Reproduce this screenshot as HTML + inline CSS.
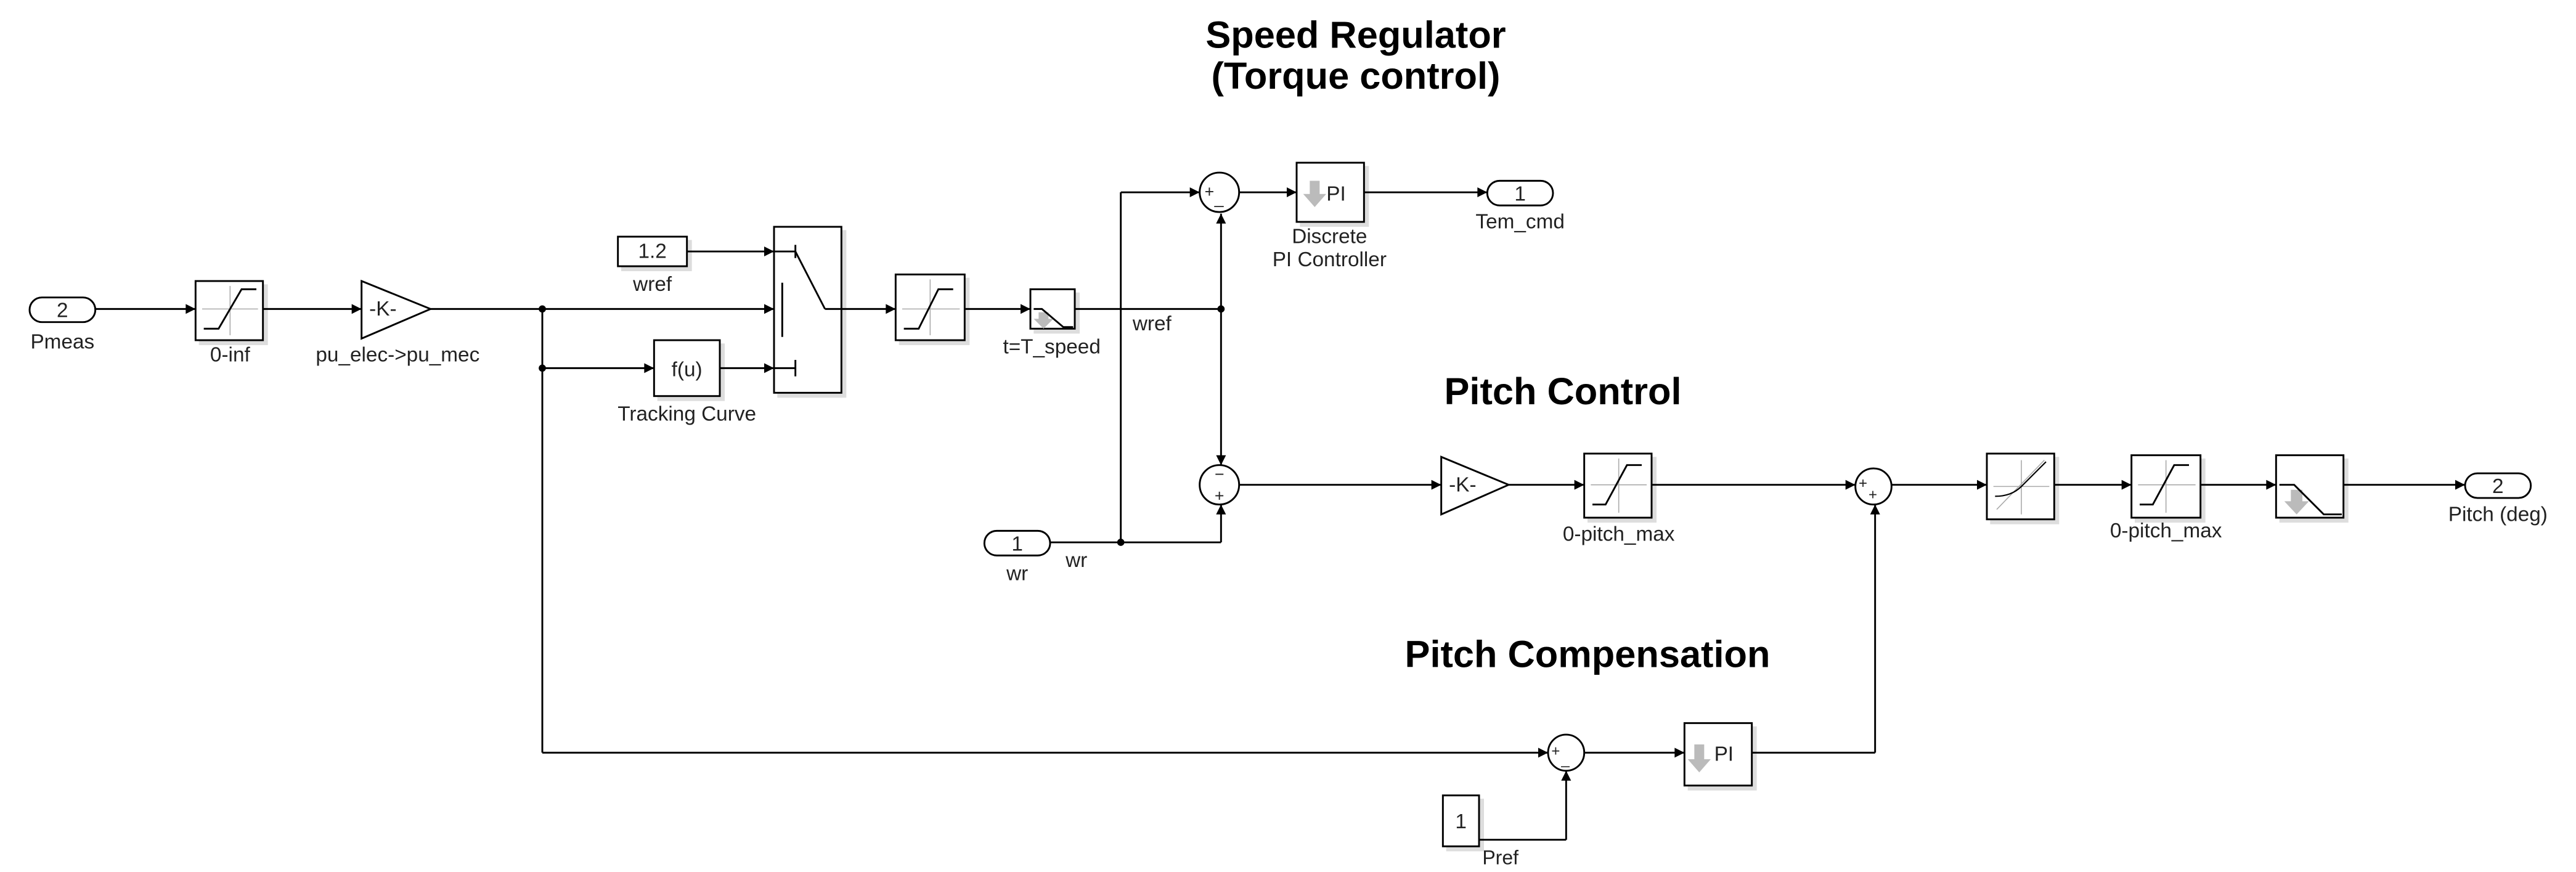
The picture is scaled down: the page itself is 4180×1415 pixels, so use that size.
<!DOCTYPE html>
<html><head><meta charset="utf-8">
<style>
html,body{margin:0;padding:0;background:#fff;}
svg{display:block;}
text{font-family:"Liberation Sans",Arial,sans-serif;fill:#222;}
.t{font-size:12.5px;text-anchor:middle;}
.h{font-size:23px;font-weight:bold;text-anchor:middle;fill:#000;}
.b{fill:#fff;stroke:#000;stroke-width:1.1;}
.w{fill:none;stroke:#000;stroke-width:1.1;}
.g{fill:none;stroke:#aaa;stroke-width:0.6;}
.s{fill:#ddd;stroke:none;}
</style></head><body>
<svg width="4180" height="1415" viewBox="0 0 1567.5 530.6" xmlns="http://www.w3.org/2000/svg" xml:space="preserve">
<defs>
<marker id="a" viewBox="0 0 10 10" refX="10" refY="5" markerWidth="7" markerHeight="6" markerUnits="userSpaceOnUse" orient="auto">
<path d="M0,0 L10,5 L0,10 z" fill="#000"/></marker>
</defs>
<rect width="1567.5" height="530.6" fill="#fff"/>

<!-- titles -->
<text class="h" x="825" y="29">Speed Regulator</text>
<text class="h" x="825" y="54">(Torque control)</text>
<text class="h" x="951" y="246">Pitch  Control</text>
<text class="h" x="966" y="406">Pitch  Compensation</text>

<!-- shadows -->
<g class="s">
<rect x="121" y="173" width="42" height="37"/><rect x="378" y="146" width="43" height="19"/>
<rect x="473" y="140" width="42" height="102"/><rect x="400" y="209" width="41" height="35"/>
<rect x="547" y="169" width="43" height="41"/><rect x="629" y="178" width="28" height="25"/>
<rect x="791" y="101" width="42" height="37"/><rect x="966" y="278" width="42" height="40"/>
<rect x="1211" y="278" width="42" height="41"/><rect x="1299" y="279" width="43" height="39"/>
<rect x="1387" y="279" width="42" height="39"/><rect x="1027" y="442" width="42" height="39"/>
<rect x="880" y="486" width="23" height="32"/>
</g>

<!-- Pmeas inport -->
<rect class="b" x="18" y="181" width="40" height="15" rx="7.5"/>
<text class="t" x="38" y="193">2</text>
<text class="t" x="38" y="212">Pmeas</text>
<line class="w" x1="58" y1="188" x2="119" y2="188" marker-end="url(#a)"/>

<!-- sat 0-inf -->
<rect class="b" x="119" y="171" width="41" height="36"/>
<line class="g" x1="123" y1="188" x2="157" y2="188"/><line class="g" x1="140" y1="174" x2="140" y2="204"/>
<polyline class="w" points="124,200 133,200 147,176 156,176"/>
<text class="t" x="140" y="220">0-inf</text>
<line class="w" x1="160" y1="188" x2="220" y2="188" marker-end="url(#a)"/>

<!-- gain -->
<polygon class="b" points="220,171 262,188 220,206"/>
<text class="t" x="233" y="192">-K-</text>
<text class="t" x="242" y="220">pu_elec-&gt;pu_mec</text>
<line class="w" x1="262" y1="188" x2="471" y2="188" marker-end="url(#a)"/>
<circle cx="330" cy="188" r="2.2"/>
<circle cx="330" cy="224" r="2.2"/>
<line class="w" x1="330" y1="188" x2="330" y2="458"/>
<line class="w" x1="330" y1="224" x2="398" y2="224" marker-end="url(#a)"/>

<!-- f(u) -->
<rect class="b" x="398" y="207" width="40" height="34"/>
<text class="t" x="418" y="229">f(u)</text>
<text class="t" x="418" y="256">Tracking Curve</text>
<line class="w" x1="438" y1="224" x2="471" y2="224" marker-end="url(#a)"/>

<!-- const 1.2 -->
<rect class="b" x="376" y="144" width="42" height="18"/>
<text class="t" x="397" y="157">1.2</text>
<text class="t" x="397" y="177">wref</text>
<line class="w" x1="418" y1="153" x2="471" y2="153" marker-end="url(#a)"/>

<!-- switch -->
<rect class="b" x="471" y="138" width="41" height="101"/>
<polyline class="w" points="471,153 484,153"/>
<line class="w" x1="484" y1="149" x2="484" y2="157"/>
<line class="w" x1="484" y1="153" x2="502" y2="188"/>
<line class="w" x1="502" y1="188" x2="512" y2="188"/>
<line class="w" x1="476" y1="172" x2="476" y2="205"/>
<polyline class="w" points="471,224 484,224"/>
<line class="w" x1="484" y1="219" x2="484" y2="229"/>
<line class="w" x1="512" y1="188" x2="545" y2="188" marker-end="url(#a)"/>

<!-- sat 2 -->
<rect class="b" x="545" y="167" width="42" height="40"/>
<line class="g" x1="549" y1="188" x2="584" y2="188"/><line class="g" x1="566" y1="170" x2="566" y2="204"/>
<polyline class="w" points="550,200 559,200 571,176 580,176"/>
<line class="w" x1="587" y1="188" x2="627" y2="188" marker-end="url(#a)"/>

<!-- rate limiter -->
<rect class="b" x="627" y="176" width="27" height="24"/>
<path d="M632,190 h6 v4 h3 l-6,6 l-6,-6 h3 z" fill="#bbb"/>
<polyline class="w" points="629,188 634,188 647,199 653,199"/>
<text class="t" x="640" y="215">t=T_speed</text>
<line class="w" x1="654" y1="188" x2="743" y2="188"/>
<text class="t" x="701" y="201">wref</text>
<circle cx="743" cy="188" r="2.2"/>
<line class="w" x1="743" y1="188" x2="743" y2="130" marker-end="url(#a)"/>
<line class="w" x1="743" y1="188" x2="743" y2="283" marker-end="url(#a)"/>

<!-- sum1 -->
<line class="w" x1="682" y1="330" x2="682" y2="117"/>
<line class="w" x1="682" y1="117" x2="730" y2="117" marker-end="url(#a)"/>
<circle class="b" cx="742" cy="117" r="12"/>
<text x="733" y="120" style="font-size:10px">+</text>
<text x="739" y="124" style="font-size:10px">_</text>
<line class="w" x1="754" y1="117" x2="789" y2="117" marker-end="url(#a)"/>

<!-- PI 1 -->
<rect class="b" x="789" y="99" width="41" height="36"/>
<path d="M797,110 h6 v8 h4 l-7,8 l-7,-8 h4 z" fill="#bbb"/>
<text class="t" x="813" y="122">PI</text>
<text class="t" x="809" y="148">Discrete</text>
<text class="t" x="809" y="162">PI Controller</text>
<line class="w" x1="830" y1="117" x2="905" y2="117" marker-end="url(#a)"/>
<rect class="b" x="905" y="110" width="40" height="15" rx="7.5"/>
<text class="t" x="925" y="122">1</text>
<text class="t" x="925" y="139">Tem_cmd</text>

<!-- wr inport -->
<rect class="b" x="599" y="323" width="40" height="15" rx="7.5"/>
<text class="t" x="619" y="335">1</text>
<text class="t" x="619" y="353">wr</text>
<text class="t" x="655" y="345">wr</text>
<line class="w" x1="639" y1="330" x2="743" y2="330"/>
<circle cx="682" cy="330" r="2.2"/>
<line class="w" x1="743" y1="330" x2="743" y2="307" marker-end="url(#a)"/>

<!-- sum2 -->
<circle class="b" cx="742" cy="295" r="12"/>
<text class="t" x="742" y="292" style="font-size:10px">−</text>
<text class="t" x="742" y="305" style="font-size:10px">+</text>
<line class="w" x1="754" y1="295" x2="877" y2="295" marker-end="url(#a)"/>

<!-- gain2 -->
<polygon class="b" points="877,278 918,295 877,313"/>
<text class="t" x="890" y="299">-K-</text>
<line class="w" x1="918" y1="295" x2="964" y2="295" marker-end="url(#a)"/>

<!-- sat3 -->
<rect class="b" x="964" y="276" width="41" height="39"/>
<line class="g" x1="968" y1="295" x2="1002" y2="295"/><line class="g" x1="985" y1="279" x2="985" y2="312"/>
<polyline class="w" points="969,307 977,307 990,283 999,283"/>
<text class="t" x="985" y="329">0-pitch_max</text>
<line class="w" x1="1005" y1="295" x2="1129" y2="295" marker-end="url(#a)"/>

<!-- sum3 -->
<circle class="b" cx="1140" cy="296" r="11"/>
<text x="1131" y="297" style="font-size:9px">+</text>
<text x="1137" y="304" style="font-size:9px">+</text>
<line class="w" x1="1066" y1="458" x2="1141" y2="458"/>
<line class="w" x1="1141" y1="458" x2="1141" y2="307" marker-end="url(#a)"/>
<line class="w" x1="1151" y1="295" x2="1209" y2="295" marker-end="url(#a)"/>

<!-- lookup -->
<rect class="b" x="1209" y="276" width="41" height="40"/>
<line class="g" x1="1213" y1="296" x2="1247" y2="296"/><line class="g" x1="1230" y1="280" x2="1230" y2="313"/>
<line class="g" x1="1215" y1="310" x2="1244" y2="280"/>
<path class="w" d="M1214,302 Q1224,302 1230,296 L1245,281" style="stroke-width:0.8"/>
<line class="w" x1="1250" y1="295" x2="1297" y2="295" marker-end="url(#a)"/>

<!-- sat4 -->
<rect class="b" x="1297" y="277" width="42" height="38"/>
<line class="g" x1="1301" y1="295" x2="1336" y2="295"/><line class="g" x1="1318" y1="280" x2="1318" y2="312"/>
<polyline class="w" points="1302,307 1310,307 1323,283 1332,283"/>
<text class="t" x="1318" y="327">0-pitch_max</text>
<line class="w" x1="1339" y1="295" x2="1385" y2="295" marker-end="url(#a)"/>

<!-- rate limiter 2 -->
<rect class="b" x="1385" y="277" width="41" height="38"/>
<path d="M1394,298 h7 v7 h4 l-7.5,8 l-7.5,-8 h4 z" fill="#bbb"/>
<polyline class="w" points="1387,295 1396,295 1414,313 1425,313"/>
<line class="w" x1="1426" y1="295" x2="1500" y2="295" marker-end="url(#a)"/>
<rect class="b" x="1500" y="288" width="40" height="15" rx="7.5"/>
<text class="t" x="1520" y="300">2</text>
<text class="t" x="1520" y="317">Pitch (deg)</text>

<!-- pitch compensation -->
<line class="w" x1="330" y1="458" x2="942" y2="458" marker-end="url(#a)"/>
<circle class="b" cx="953" cy="458" r="11"/>
<text x="944" y="460" style="font-size:9px">+</text>
<text x="950" y="465" style="font-size:9px">_</text>
<line class="w" x1="964" y1="458" x2="1025" y2="458" marker-end="url(#a)"/>
<rect class="b" x="1025" y="440" width="41" height="38"/>
<path d="M1031,453 h6 v9 h4 l-7,8 l-7,-8 h4 z" fill="#bbb"/>
<text class="t" x="1049" y="463">PI</text>

<rect class="b" x="878" y="484" width="22" height="31"/>
<text class="t" x="889" y="504">1</text>
<line class="w" x1="900" y1="511" x2="953" y2="511"/>
<line class="w" x1="953" y1="511" x2="953" y2="469" marker-end="url(#a)"/>
<text x="902" y="526" style="font-size:12px">Pref</text>
</svg>
</body></html>
